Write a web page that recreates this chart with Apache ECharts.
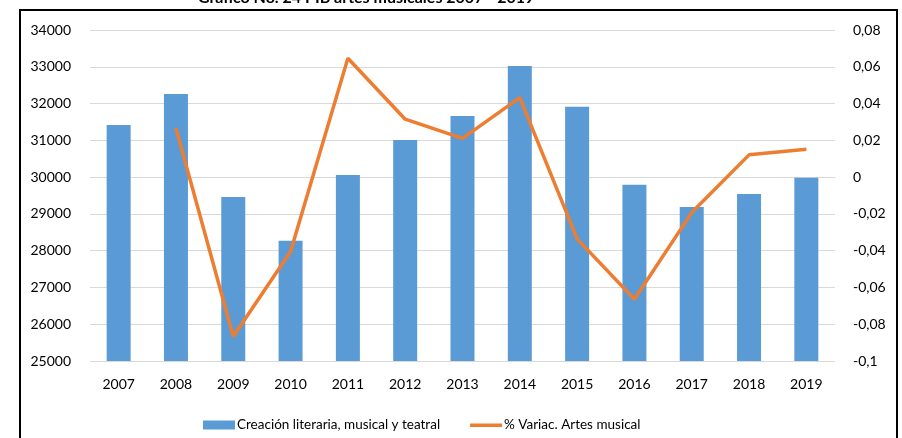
<!DOCTYPE html>
<html>
<head>
<meta charset="utf-8">
<script src="https://cdn.jsdelivr.net/npm/echarts@6/dist/echarts.min.js"></script>
<style>
  html, body { margin: 0; padding: 0; background: #fff; }
  #chart { width: 902px; height: 438px; }
</style>
</head>
<body>
<div id="chart"></div>
<script>
// años
var years = ['2007', '2008', '2009', '2010', '2011', '2012', '2013', '2014', '2015', '2016', '2017', '2018', '2019'];
// Creación literaria, musical y teatral
var creacion = [31420, 32260, 29460, 28270, 30060, 31010, 31660, 33020, 31910, 29790, 29190, 29540, 29980];
// % Variac. Artes musical (2007 sin dato)
var variacion = [null, 0.0266, -0.0867, -0.0405, 0.0646, 0.0315, 0.0211, 0.0432, -0.0336, -0.0664, -0.0193, 0.0121, 0.0152];

var chart = echarts.init(document.getElementById('chart'));
var font = 'Lato, "Open Sans", sans-serif';

var option = {
  animation: false,
  textStyle: { fontFamily: font },
  title: {
    text: 'Gráfico No. 24 PIB artes musicales 2007 - 2019',
    left: 193,
    top: -15,
    textStyle: { fontSize: 16, fontWeight: 'bold', color: '#000', fontFamily: font }
  },
  graphic: [{
    type: 'rect',
    shape: { x: 20, y: 10, width: 877, height: 440 },
    style: { fill: 'none', stroke: '#000', lineWidth: 2 },
    silent: true
  }],
  legend: {
    left: 198,
    top: 413,
    itemGap: 30,
    itemWidth: 32,
    itemHeight: 9,
    textStyle: { fontSize: 13.5, color: '#000', fontFamily: font, padding: [0, 0, 0, -3] },
    data: [
      { name: 'Creación literaria, musical y teatral', icon: 'rect' },
      {
        name: '% Variac. Artes musical',
        // solo una franja fina en el centro del icono
        icon: 'path://M0,0L0.01,0L0.01,0.01Z M0,3L32,3L32,6.5L0,6.5Z M31.99,9L32,9L32,8.99Z',
        itemStyle: { color: '#ed7d31' }
      }
    ]
  },
  grid: { left: 90, right: 67, top: 30, bottom: 77 },
  xAxis: {
    type: 'category',
    data: years,
    axisTick: { show: false },
    axisLine: { lineStyle: { color: '#d9d9d9', width: 1 } },
    axisLabel: { color: '#000', fontSize: 14, margin: 16 }
  },
  yAxis: [{
    type: 'value',
    min: 25000,
    max: 34000,
    interval: 1000,
    axisLine: { show: false },
    axisTick: { show: false },
    axisLabel: { color: '#000', fontSize: 14, margin: 19, formatter: function (v) { return String(v); } },
    splitLine: { lineStyle: { color: '#d9d9d9', width: 1 } }
  }, {
    type: 'value',
    min: -0.1,
    max: 0.08,
    interval: 0.02,
    axisLine: { show: false },
    axisTick: { show: false },
    splitLine: { show: false },
    axisLabel: {
      color: '#000',
      fontSize: 14,
      margin: 18,
      formatter: function (v) { return String(+v.toFixed(2)).replace('.', ','); }
    }
  }],
  series: [{
    name: 'Creación literaria, musical y teatral',
    type: 'bar',
    data: creacion,
    barWidth: 24,
    itemStyle: { color: '#5b9bd5' }
  }, {
    name: '% Variac. Artes musical',
    type: 'line',
    yAxisIndex: 1,
    data: variacion,
    symbol: 'none',
    lineStyle: { color: '#ed7d31', width: 3.5 },
    itemStyle: { color: '#ed7d31' }
  }]
};

chart.setOption(option);
</script>
</body>
</html>
